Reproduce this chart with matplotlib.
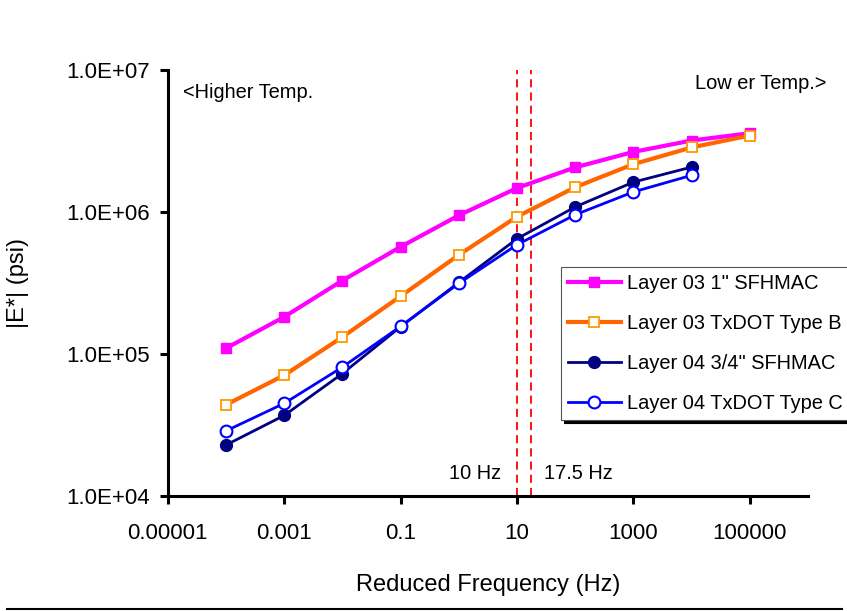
import numpy as np
import matplotlib.pyplot as plt
from matplotlib.lines import Line2D

plt.rcParams['font.family'] = ['Liberation Sans', 'DejaVu Sans']

# Reduced frequency (Hz) and |E*| (psi)
freq = [1e-4, 1e-3, 1e-2, 1e-1, 1e0, 1e1, 1e2, 1e3, 1e4, 1e5]
l03_sfhmac = [1.1e5, 1.83e5, 3.3e5, 5.7e5, 9.5e5, 1.48e6, 2.07e6, 2.66e6, 3.2e6, 3.6e6]
l03_typeb = [4.4e4, 7.1e4, 1.32e5, 2.56e5, 5.0e5, 9.3e5, 1.5e6, 2.18e6, 2.86e6, 3.47e6]
l04_sfhmac = [2.29e4, 3.7e4, 7.3e4, 1.56e5, 3.2e5, 6.5e5, 1.09e6, 1.63e6, 2.08e6]
l04_typec = [2.88e4, 4.5e4, 8.1e4, 1.57e5, 3.15e5, 5.9e5, 9.6e5, 1.39e6, 1.82e6]

xticks = [1e-5, 1e-3, 1e-1, 1e1, 1e3, 1e5]
xticklabels = ['0.00001', '0.001', '0.1', '10', '1000', '100000']
yticks = [1e4, 1e5, 1e6, 1e7]
yticklabels = ['1.0E+04', '1.0E+05', '1.0E+06', '1.0E+07']
ref_freqs = [10, 17.5]

fig = plt.figure(figsize=(8.47, 6.11), dpi=100)
ax = fig.add_axes([0.198, 0.188, 0.756, 0.697])

ax.plot(freq, l03_sfhmac, color='#ff00ff', lw=3, marker='s', ms=7,
        mfc='#ff00ff', mec='#ff00ff', label='Layer 03 1" SFHMAC', zorder=3)
ax.plot(freq, l03_typeb, color='#ff6600', lw=3, marker='s', ms=7,
        mfc='white', mec='#ff9900', mew=1.3, label='Layer 03 TxDOT Type B', zorder=3)
ax.plot(freq[:9], l04_sfhmac, color='#000080', lw=2, marker='o', ms=8.5,
        mfc='#000080', mec='#000080', label='Layer 04 3/4" SFHMAC', zorder=4)
ax.plot(freq[:9], l04_typec, color='#0000ff', lw=2, marker='o', ms=8.5,
        mfc='white', mec='#0000ff', mew=1.5, label='Layer 04 TxDOT Type C', zorder=5)

for f in ref_freqs:
    ax.axvline(f, color='red', ls=(0, (4.5, 2.8)), lw=1.3, zorder=2)

ax.set_xscale('log')
ax.set_yscale('log')
ax.set_xlim(1e-5, 1e6)
ax.set_ylim(1e4, 1e7)
ax.set_xticks(xticks)
ax.set_xticklabels(xticklabels)
ax.set_yticks(yticks)
ax.set_yticklabels(yticklabels)
ax.minorticks_off()
ax.tick_params(labelsize=16, width=2.2, length=6, direction='out', pad=7)
ax.tick_params(axis='x', pad=13)
for s in ['top', 'right']:
    ax.spines[s].set_visible(False)
for s in ['left', 'bottom']:
    ax.spines[s].set_linewidth(2.2)

ax.set_xlabel('Reduced Frequency (Hz)', fontsize=17)
ax.xaxis.set_label_coords(0.5, -0.183)
ax.set_ylabel('|E*| (psi)', fontsize=17)
ax.yaxis.set_label_coords(-0.217, 0.5)

ax.text(1.8e-5, 7.0e6, '<Higher Temp.', fontsize=14.4, va='center')
ax.text(2.1e6, 8.1e6, 'Low er Temp.>', fontsize=14.4, va='center', ha='right')
ax.text(5.3, 1.45e4, '10 Hz', fontsize=14.4, ha='right', va='center')
ax.text(29, 1.45e4, '17.5 Hz', fontsize=14.4, ha='left', va='center')

leg = ax.legend(loc='upper left', bbox_to_anchor=(0.614, 0.5376), fontsize=14.4,
                frameon=True, fancybox=False, edgecolor='#555555', framealpha=1,
                shadow={'color': 'black', 'alpha': 1}, handlelength=2.65,
                labelspacing=1.05, borderpad=0.35, handletextpad=0.3,
                borderaxespad=0)
leg.get_frame().set_linewidth(0.8)

fig.add_artist(Line2D([0.008, 0.994], [0.003, 0.003], color='black', lw=1.5,
                      transform=fig.transFigure))

fig.savefig('out.png', dpi=100)
